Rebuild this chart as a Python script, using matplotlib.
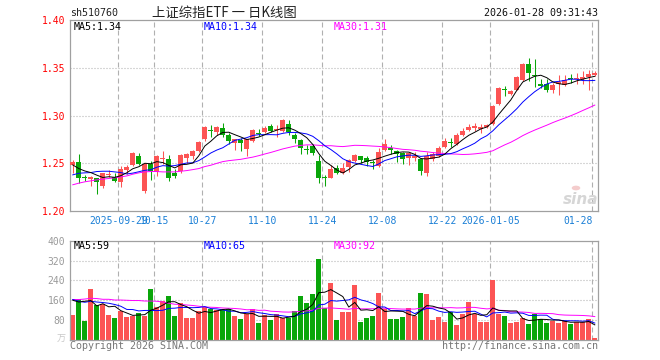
import numpy as np
import pandas as pd
import matplotlib
matplotlib.use("Agg")
import matplotlib.pyplot as plt
from matplotlib.patches import Circle

# daily candles, 2025-09-17 .. 2026-01-28 (index 0..87)
opens = [1.2480, 1.2514, 1.2352, 1.2334, 1.2344, 1.2264, 1.2380, 1.2358, 1.2306, 1.2427,
         1.2480, 1.2573, 1.2212, 1.2490, 1.2410, 1.2542, 1.2549, 1.2403, 1.2420, 1.2556,
         1.2577, 1.2629, 1.2750, 1.2839, 1.2827, 1.2872, 1.2802, 1.2715, 1.2743, 1.2646,
         1.2733, 1.2820, 1.2827, 1.2896, 1.2847, 1.2837, 1.2917, 1.2802, 1.2740, 1.2653,
         1.2681, 1.2525, 1.2358, 1.2351, 1.2455, 1.2403, 1.2462, 1.2525, 1.2573, 1.2559,
         1.2514, 1.2473, 1.2636, 1.2663, 1.2629, 1.2611, 1.2552, 1.2559, 1.2542, 1.2403,
         1.2542, 1.2577, 1.2674, 1.2719, 1.2698, 1.2802, 1.2848, 1.2868, 1.2855, 1.2882,
         1.2910, 1.3118, 1.3281, 1.3229, 1.3274, 1.3379, 1.3542, 1.3431, 1.3333, 1.3333,
         1.3264, 1.3333, 1.3320, 1.3392, 1.3382, 1.3389, 1.3403, 1.3424]
highs = [1.2531, 1.2594, 1.2382, 1.2368, 1.2350, 1.2403, 1.2430, 1.2396, 1.2472, 1.2480,
         1.2618, 1.2604, 1.2507, 1.2525, 1.2584, 1.2625, 1.2584, 1.2438, 1.2597, 1.2611,
         1.2639, 1.2733, 1.2889, 1.2906, 1.2889, 1.2924, 1.2813, 1.2757, 1.2768, 1.2757,
         1.2861, 1.2861, 1.2896, 1.2917, 1.2906, 1.2965, 1.2958, 1.2820, 1.2750, 1.2688,
         1.2698, 1.2584, 1.2379, 1.2480, 1.2483, 1.2507, 1.2542, 1.2594, 1.2577, 1.2577,
         1.2532, 1.2663, 1.2750, 1.2688, 1.2636, 1.2622, 1.2622, 1.2622, 1.2559, 1.2622,
         1.2622, 1.2681, 1.2768, 1.2768, 1.2813, 1.2872, 1.2910, 1.2927, 1.2917, 1.2910,
         1.3111, 1.3302, 1.3309, 1.3264, 1.3413, 1.3552, 1.3604, 1.3597, 1.3389, 1.3389,
         1.3344, 1.3424, 1.3424, 1.3437, 1.3448, 1.3472, 1.3483, 1.3472]
lows = [1.2403, 1.2292, 1.2316, 1.2257, 1.2178, 1.2243, 1.2360, 1.2306, 1.2247, 1.2386,
        1.2472, 1.2480, 1.2190, 1.2323, 1.2368, 1.2490, 1.2316, 1.2351, 1.2403, 1.2507,
        1.2542, 1.2618, 1.2733, 1.2774, 1.2802, 1.2778, 1.2698, 1.2639, 1.2629, 1.2577,
        1.2726, 1.2785, 1.2813, 1.2827, 1.2778, 1.2827, 1.2802, 1.2715, 1.2594, 1.2594,
        1.2584, 1.2292, 1.2257, 1.2344, 1.2386, 1.2386, 1.2414, 1.2518, 1.2507, 1.2473,
        1.2438, 1.2462, 1.2629, 1.2594, 1.2518, 1.2497, 1.2483, 1.2525, 1.2379, 1.2368,
        1.2525, 1.2570, 1.2663, 1.2670, 1.2691, 1.2785, 1.2841, 1.2841, 1.2823, 1.2875,
        1.2903, 1.3111, 1.3205, 1.3215, 1.3264, 1.3368, 1.3361, 1.3299, 1.3292, 1.3250,
        1.3240, 1.3215, 1.3309, 1.3344, 1.3333, 1.3333, 1.3274, 1.3413]
closes = [1.2518, 1.2348, 1.2347, 1.2358, 1.2309, 1.2396, 1.2386, 1.2316, 1.2445, 1.2462,
          1.2608, 1.2490, 1.2497, 1.2420, 1.2573, 1.2559, 1.2341, 1.2368, 1.2584, 1.2597,
          1.2625, 1.2722, 1.2879, 1.2835, 1.2882, 1.2802, 1.2733, 1.2750, 1.2715, 1.2750,
          1.2854, 1.2809, 1.2872, 1.2844, 1.2861, 1.2958, 1.2827, 1.2750, 1.2663, 1.2643,
          1.2604, 1.2351, 1.2348, 1.2445, 1.2403, 1.2448, 1.2532, 1.2587, 1.2538, 1.2514,
          1.2504, 1.2622, 1.2698, 1.2636, 1.2601, 1.2542, 1.2611, 1.2577, 1.2421, 1.2577,
          1.2594, 1.2656, 1.2733, 1.2709, 1.2802, 1.2844, 1.2882, 1.2893, 1.2882, 1.2903,
          1.3101, 1.3292, 1.3271, 1.3257, 1.3403, 1.3542, 1.3448, 1.3417, 1.3309, 1.3274,
          1.3320, 1.3354, 1.3379, 1.3382, 1.3392, 1.3403, 1.3438, 1.3448]
# volume, 万手
volumes = [101, 164, 77, 205, 140, 145, 101, 89, 116, 93,
           97, 108, 97, 205, 133, 159, 177, 97, 148, 89,
           89, 117, 132, 125, 121, 119, 125, 96, 85, 103,
           124, 69, 99, 81, 103, 88, 89, 117, 177, 149,
           185, 325, 127, 229, 81, 113, 113, 221, 73, 89,
           97, 189, 125, 85, 85, 93, 129, 97, 189, 185,
           81, 93, 73, 113, 61, 105, 153, 105, 73, 73,
           241, 105, 97, 69, 73, 89, 65, 105, 85, 69,
           77, 69, 77, 65, 73, 73, 85, 9]

# moving averages before a full window is available
ma5_head = [1.2483, 1.2445, 1.2420, 1.2403]
ma10_head = [1.2379, 1.2396, 1.2400, 1.2403, 1.2414, 1.2417, 1.2417, 1.2410, 1.2403]
ma30_head = [1.2275, 1.2292, 1.2306, 1.2316, 1.2327, 1.2334, 1.2341, 1.2348, 1.2358, 1.2368,
             1.2386, 1.2400, 1.2410, 1.2414, 1.2414, 1.2410, 1.2410, 1.2410, 1.2417, 1.2424,
             1.2434, 1.2445, 1.2466, 1.2480, 1.2500, 1.2518, 1.2528, 1.2535, 1.2542]
vma5_head = [160, 153, 156, 159]
vma10_head = [163, 156, 152, 156, 153, 151, 148, 143, 136]
vma30_head = [163, 163, 165, 168, 167, 164, 164, 161, 161, 160,
              159, 159, 157, 157, 156, 153, 148, 144, 143, 141,
              139, 136, 133, 132, 131, 129, 128, 127, 125]

tick_idx = [8, 14, 22, 32, 42, 52, 62, 70, 87]
tick_labels = ['2025-09-29', '10-15', '10-27', '11-10', '11-24', '12-08', '12-22', '2026-01-05', '01-28']

RED = '#fc5454'
GREEN = '#0aa60a'
FRAME = '#a0a0a0'
GRID = '#b0b0b0'
BLUE_TXT = '#1a7fd6'
MONO = 'DejaVu Sans Mono'
CJK = ['Noto Sans CJK SC', 'DejaVu Sans']


def moving(values, n, head):
    m = pd.Series(values, dtype=float).rolling(n).mean().to_numpy()
    m[:n - 1] = head
    return m


o = np.array(opens)
h = np.array(highs)
l = np.array(lows)
c = np.array(closes)
v = np.array(volumes)
x = np.arange(len(c))
up = c >= o
colors = np.where(up, RED, GREEN)

W, H = 660, 360
fig = plt.figure(figsize=(W / 100, H / 100), dpi=100)
fig.patch.set_facecolor('white')

left, right = 70.3, 597.7
ax1 = fig.add_axes([left / W, 1 - 211 / H, (right - left) / W, (211 - 20.3) / H])
ax2 = fig.add_axes([left / W, 1 - 340 / H, (right - left) / W, (340 - 240.7) / H])

edge = 2.5 / 6  # gridline sits on the left edge of a bar
bw = 5 / 6
xlim = (-edge, len(c) - 1 + 2.9 / 6)

for ax in (ax1, ax2):
    ax.set_xlim(*xlim)
    for s in ax.spines.values():
        s.set_color(FRAME)
        s.set_linewidth(0.9)
    for t in tick_idx:
        ax.axvline(t - edge, color=GRID, lw=0.8, ls=(0, (4.5, 2.7)), zorder=0)

# price panel
for lev in [1.25, 1.30, 1.35]:
    ax1.axhline(lev, color=GRID, lw=0.8, ls=(0, (0.9, 1.8)), zorder=0)
ax1.vlines(x, l, h, colors=colors, lw=0.75, zorder=2)
body = np.maximum(np.abs(c - o), 0.0011)
ax1.bar(x, body, bottom=np.minimum(o, c), width=bw, color=colors, lw=0, zorder=3)
ax1.plot(x, moving(c, 30, ma30_head), color='#ff00ff', lw=0.7, zorder=4)
ax1.plot(x, moving(c, 10, ma10_head), color='#0000ff', lw=0.7, zorder=4)
ax1.plot(x, moving(c, 5, ma5_head), color='black', lw=0.7, zorder=4)
ax1.set_ylim(1.20, 1.40)
ax1.set_yticks([1.20, 1.25, 1.30, 1.35, 1.40])
ax1.set_yticklabels(['1.20', '1.25', '1.30', '1.35', '1.40'])
ax1.tick_params(axis='y', length=0, pad=3.6, labelcolor='red', labelsize=7.0)
ax1.set_xticks([t - edge for t in tick_idx])
ax1.set_xticklabels(tick_labels)
ax1.tick_params(axis='x', length=0, pad=3.4, labelcolor=BLUE_TXT, labelsize=7.0)
for lab in ax1.get_yticklabels() + ax1.get_xticklabels():
    lab.set_family(MONO)
ax1.get_xticklabels()[-1].set_ha('right')

ax1.text(74 / W, 1 - 26.7 / H, 'MA5:1.34', transform=fig.transFigure, family=MONO,
         fontsize=7.2, color='black', va='center')
ax1.text(204 / W, 1 - 26.7 / H, 'MA10:1.34', transform=fig.transFigure, family=MONO,
         fontsize=7.2, color='#0000ff', va='center')
ax1.text(334 / W, 1 - 26.7 / H, 'MA30:1.31', transform=fig.transFigure, family=MONO,
         fontsize=7.2, color='#ff00ff', va='center')

# sina watermark
fig.text(581 / W, 1 - 200 / H, 'sina', fontsize=11, color='#d6d6d6', weight='bold',
         style='italic', ha='center', va='center')
fig.patches.append(Circle((576 / W, 1 - 188 / H), 0.0065, transform=fig.transFigure,
                          facecolor='#f4cccc', edgecolor='none'))

# volume panel
for lev in [80, 160, 240, 320]:
    ax2.axhline(lev, color=GRID, lw=0.8, ls=(0, (0.9, 1.8)), zorder=0)
ax2.bar(x, v, width=bw, color=colors, lw=0, zorder=2)
ax2.plot(x, moving(v, 30, vma30_head), color='#ff00ff', lw=0.7, zorder=4)
ax2.plot(x, moving(v, 10, vma10_head), color='#0000ff', lw=0.7, zorder=4)
ax2.plot(x, moving(v, 5, vma5_head), color='black', lw=0.7, zorder=4)
ax2.set_ylim(0, 400)
ax2.set_yticks([80, 160, 240, 320, 400])
ax2.set_yticklabels(['80', '160', '240', '320', '400'])
ax2.tick_params(axis='y', length=0, pad=3.6, labelcolor='#9a9a9a', labelsize=7.0)
for lab in ax2.get_yticklabels():
    lab.set_family(MONO)
ax2.set_xticks([])

fig.text(74 / W, 1 - 246 / H, 'MA5:59', family=MONO, fontsize=7.2, color='black', va='center')
fig.text(204 / W, 1 - 246 / H, 'MA10:65', family=MONO, fontsize=7.2, color='#0000ff', va='center')
fig.text(334 / W, 1 - 246 / H, 'MA30:92', family=MONO, fontsize=7.2, color='#ff00ff', va='center')
fig.text(66 / W, 1 - 339 / H, '万', family=CJK, fontsize=6.5, color='#c8c8c8', ha='right', va='center')

# header and footer
fig.text(70 / W, 1 - 13.3 / H, 'sh510760', family=MONO, fontsize=7.2, color='#222222', va='center')
fig.text(224 / W, 1 - 13.3 / H, '上证综指ETF 一 日K线图', family=CJK, fontsize=9.6,
         color='#222222', ha='center', va='center')
fig.text(597.7 / W, 1 - 13.3 / H, '2026-01-28 09:31:43', family=MONO, fontsize=7.2,
         color='#111111', ha='right', va='center')
fig.text(70 / W, 1 - 346 / H, 'Copyright 2026 SINA.COM', family=MONO, fontsize=7.2,
         color='#777777', va='center')
fig.text(597.7 / W, 1 - 346 / H, 'http://finance.sina.com.cn', family=MONO, fontsize=7.2,
         color='#777777', ha='right', va='center')

fig.savefig('out.png', dpi=100)
